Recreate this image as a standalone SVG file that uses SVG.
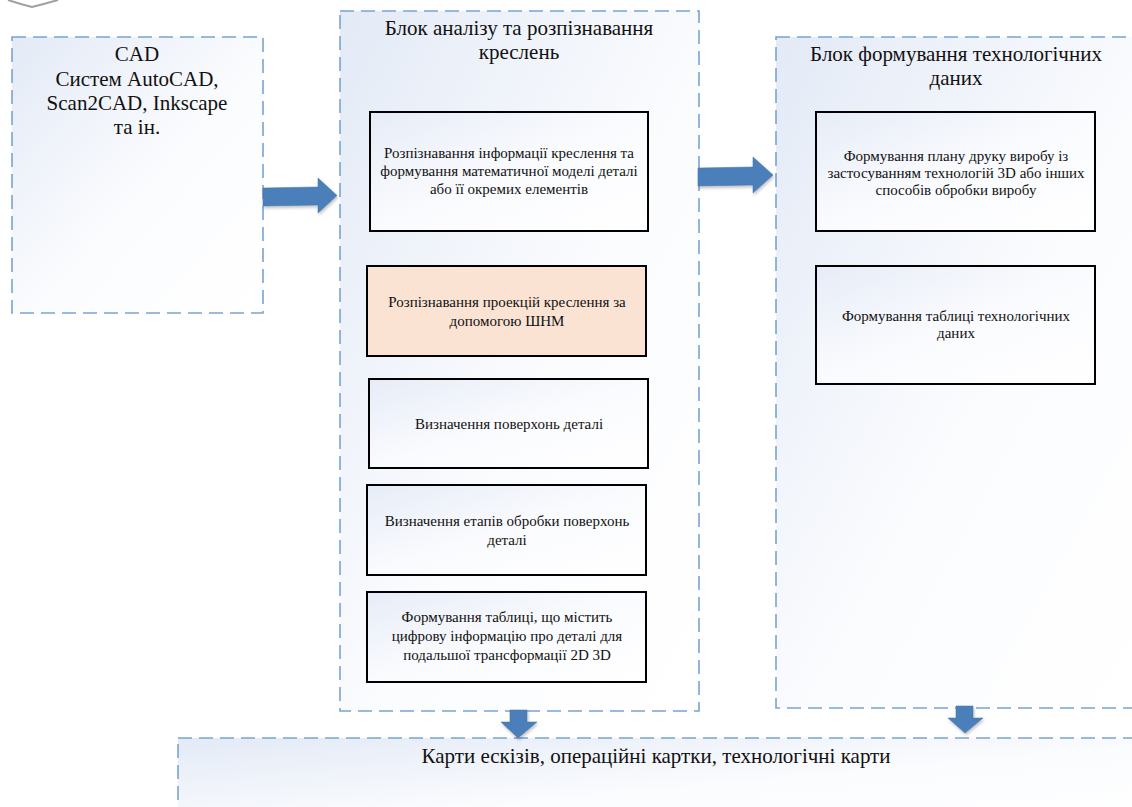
<svg xmlns="http://www.w3.org/2000/svg" width="1132" height="807" viewBox="0 0 1132 807">
<style>
.cont{stroke:#7aa3d3;stroke-width:1.6;stroke-dasharray:14 7;}
.box{stroke:#000;stroke-width:2;}
.t{font-family:"Liberation Serif","Times New Roman",serif;fill:#111;text-anchor:middle;}
.ti{font-size:21px;}
.s{font-size:15px;}
.arr{fill:#4b7fba;stroke:#3f70a8;stroke-width:0.5;}
</style>
<defs>
<linearGradient id="g" x1="0" y1="0" x2="1" y2="1">
<stop offset="0" stop-color="#e3eaf6"/>
<stop offset="0.55" stop-color="#fbfcfe"/>
<stop offset="1" stop-color="#ffffff"/>
</linearGradient>
<linearGradient id="gi" x1="0" y1="0" x2="1" y2="1">
<stop offset="0" stop-color="#e6ecf7"/>
<stop offset="0.5" stop-color="#fafbfe"/>
<stop offset="1" stop-color="#ffffff"/>
</linearGradient>
<filter id="sh" x="-20%" y="-20%" width="150%" height="150%">
<feDropShadow dx="1" dy="2" stdDeviation="1.5" flood-color="#000" flood-opacity="0.25"/>
</filter>
</defs>
<rect width="1132" height="807" fill="#fff"/>
<path d="M8,0 Q20,4 32,7 Q44,4 58,0" fill="none" stroke="#777" stroke-width="2" opacity="0.7"/>

<g id="cad">
<rect class="cont" x="12" y="37" width="251" height="276" fill="url(#g)"/>
<text class="t ti" x="137" y="61">CAD</text>
<text class="t ti" x="137" y="86">Систем AutoCAD,</text>
<text class="t ti" x="137" y="110">Scan2CAD, Inkscape</text>
<text class="t ti" x="137" y="134">та ін.</text>
</g>

<g id="analysis">
<rect class="cont" x="340" y="11" width="359" height="700" fill="url(#g)"/>
<text class="t ti" x="519" y="35">Блок аналізу та розпізнавання</text>
<text class="t ti" x="519" y="59">креслень</text>
</g>

<g id="tech">
<rect class="cont" x="776" y="37" width="370" height="671" fill="url(#g)"/>
<text class="t ti" x="956" y="61">Блок формування технологічних</text>
<text class="t ti" x="956" y="85">даних</text>
</g>

<g id="maps">
<rect class="cont" x="178" y="738" width="970" height="90" fill="url(#g)"/>
<text class="t" style="font-size:21px" x="656" y="763">Карти ескізів, операційні картки, технологічні карти</text>
</g>

<g id="n1">
<rect class="box" x="370" y="112" width="278" height="119" fill="url(#gi)"/>
<text class="t s" x="509" y="158">Розпізнавання інформації креслення та</text>
<text class="t s" x="509" y="176">формування математичної моделі деталі</text>
<text class="t s" x="509" y="194">або її окремих елементів</text>
</g>
<g id="n2">
<rect class="box" x="367" y="266" width="279" height="90" fill="#fae3d3"/>
<text class="t s" x="507" y="307">Розпізнавання проекцій креслення за</text>
<text class="t s" x="507" y="326">допомогою ШНМ</text>
</g>
<g id="n3">
<rect class="box" x="369" y="379" width="279" height="89" fill="url(#gi)"/>
<text class="t s" x="509" y="429">Визначення поверхонь деталі</text>
</g>
<g id="n4">
<rect class="box" x="367" y="485" width="279" height="90" fill="url(#gi)"/>
<text class="t s" x="507" y="526">Визначення етапів обробки поверхонь</text>
<text class="t s" x="507" y="545">деталі</text>
</g>
<g id="n5">
<rect class="box" x="367" y="592" width="279" height="90" fill="url(#gi)"/>
<text class="t s" x="507" y="622">Формування таблиці, що містить</text>
<text class="t s" x="507" y="641">цифрову інформацію про деталі для</text>
<text class="t s" x="507" y="660">подальшої трансформації 2D 3D</text>
</g>
<g id="n6">
<rect class="box" x="816" y="112" width="279" height="119" fill="url(#gi)"/>
<text class="t s" x="956" y="161">Формування плану друку виробу із</text>
<text class="t s" x="956" y="178">застосуванням технологій 3D або інших</text>
<text class="t s" x="956" y="195">способів обробки виробу</text>
</g>
<g id="n7">
<rect class="box" x="816" y="266" width="279" height="118" fill="url(#gi)"/>
<text class="t s" x="956" y="321">Формування таблиці технологічних</text>
<text class="t s" x="956" y="338">даних</text>
</g>

<g id="connectors" filter="url(#sh)">
<path class="arr" d="M263,188 L318,187 L318,178 L337,195.5 L318,213 L318,205 L263,206 Z"/>
<path class="arr" d="M698,168 L753,167 L753,157 L773,175 L753,193 L753,185 L698,186 Z"/>
<path class="arr" d="M510,710 L527,710 L527,722 L537,722 L518,738 L501,722 L510,722 Z"/>
<path class="arr" d="M956,706 L973,706 L973,718 L983,718 L965,733 L948,718 L956,718 Z"/>
</g>
</svg>
